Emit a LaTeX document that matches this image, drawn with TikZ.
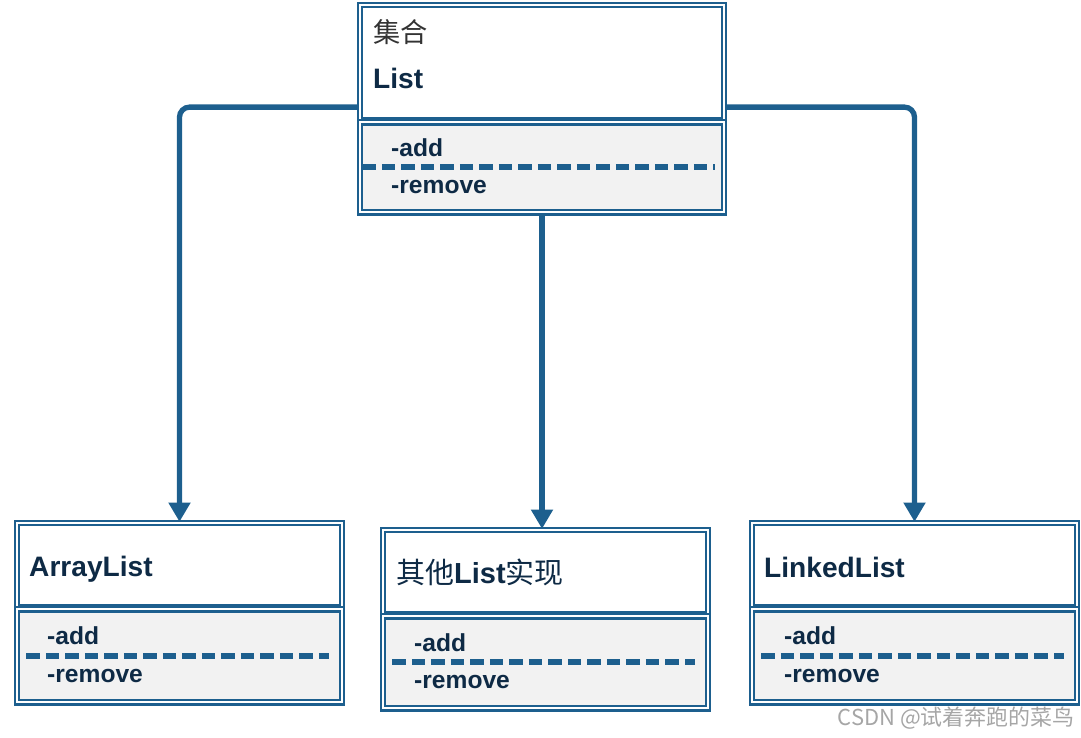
\documentclass[tikz,border=0pt]{standalone}
\usepackage{fontspec}
\setmainfont{Liberation Sans}
\newfontfamily\cjk{Noto Sans CJK SC}
\usetikzlibrary{arrows.meta}
\definecolor{umlblue}{HTML}{1D5F8E}
\definecolor{umlgray}{HTML}{F2F2F2}
\definecolor{umltext}{HTML}{0E2A45}

\begin{document}
\begin{tikzpicture}[
    head/.style={draw=umlblue, double=white, line width=1.3pt, double distance=1.1pt,
      fill=white, minimum width=#1, inner sep=0pt},
    ops/.style={draw=umlblue, double=white, line width=1.3pt, double distance=1.1pt,
      fill=umlgray, minimum width=#1, inner sep=0pt, anchor=north},
    title/.style={anchor=west, text=umltext, font=\bfseries\fontsize{16}{18}\selectfont, inner sep=0pt},
    op/.style={anchor=west, text=umltext, font=\bfseries\fontsize{14}{16}\selectfont, inner sep=0pt},
    sep/.style={draw=umlblue, line width=3.3pt, dash pattern=on 7.5pt off 3.6pt},
    link/.style={draw=umlblue, line width=3pt, rounded corners=0.2cm,
      -{Triangle[width=12pt,length=11pt]}}
  ]
  \useasboundingbox (0,0) rectangle (21.62,14.76);

  % List
  \node[head=7.28cm, minimum height=2.3cm] (listhead) at (10.84,13.51) {};
  \node[ops=7.28cm, minimum height=1.8cm] (listops) at (listhead.south) {};
  \node[anchor=west, inner sep=0pt, text=black!80, font=\cjk\fontsize{15.5}{18}\selectfont]
    (listcn) at ([xshift=0.28cm,yshift=-0.56cm]listhead.north west) {集合};
  \node[title] (listname) at ([xshift=0.28cm,yshift=-1.5cm]listhead.north west) {List};
  \draw[sep] ([xshift=2pt]listops.west) -- ([xshift=-6pt]listops.east);
  \node[op] (listadd) at ([xshift=0.64cm,yshift=0.4cm]listops.west) {-add};
  \node[op] (listrm) at ([xshift=0.64cm,yshift=-0.4cm]listops.west) {-remove};

  % ArrayList
  \node[head=6.5cm, minimum height=1.68cm] (arrayhead) at (3.59,3.46) {};
  \node[ops=6.5cm, minimum height=1.86cm] (arrayops) at (arrayhead.south) {};
  \node[title] (arrayname) at ([xshift=0.26cm,yshift=-0.08cm]arrayhead.west) {ArrayList};
  \draw[sep] ([xshift=6pt]arrayops.west) -- ([xshift=-8pt]arrayops.east);
  \node[op] (arrayadd) at ([xshift=0.62cm,yshift=0.4cm]arrayops.west) {-add};
  \node[op] (arrayrm) at ([xshift=0.62cm,yshift=-0.4cm]arrayops.west) {-remove};

  % other List
  \node[head=6.5cm, minimum height=1.68cm] (otherhead) at (10.91,3.32) {};
  \node[ops=6.5cm, minimum height=1.84cm] (otherops) at (otherhead.south) {};
  \node[title, font=\fontsize{16.5}{18}\selectfont] (othername) at ([xshift=0.28cm]otherhead.west)
    {{\cjk 其他}\textbf{List}{\cjk 实现}};
  \draw[sep] ([xshift=6pt]otherops.west) -- ([xshift=-8pt]otherops.east);
  \node[op] (otheradd) at ([xshift=0.64cm,yshift=0.4cm]otherops.west) {-add};
  \node[op] (otherrm) at ([xshift=0.64cm,yshift=-0.4cm]otherops.west) {-remove};

  % LinkedList
  \node[head=6.5cm, minimum height=1.68cm] (linkedhead) at (18.29,3.46) {};
  \node[ops=6.5cm, minimum height=1.86cm] (linkedops) at (linkedhead.south) {};
  \node[title] (linkedname) at ([xshift=0.26cm,yshift=-0.04cm]linkedhead.west) {LinkedList};
  \draw[sep] ([xshift=6pt]linkedops.west) -- ([xshift=-8pt]linkedops.east);
  \node[op] (linkedadd) at ([xshift=0.66cm,yshift=0.4cm]linkedops.west) {-add};
  \node[op] (linkedrm) at ([xshift=0.66cm,yshift=-0.4cm]linkedops.west) {-remove};

  % links
  \coordinate (lout) at ([yshift=0.28cm]listhead.south west);
  \coordinate (rout) at ([yshift=0.28cm]listhead.south east);
  \draw[link] (lout) -| (arrayhead.north);
  \draw[link] (rout) -| (linkedhead.north);
  \draw[link] (listops.south) -- (listops.south |- otherhead.north);

  \node[anchor=east, inner sep=0pt, text=black!35, font=\cjk\fontsize{12.5}{14}\selectfont]
    (mark) at (21.5,0.4) {CSDN @试着奔跑的菜鸟};
\end{tikzpicture}
\end{document}
